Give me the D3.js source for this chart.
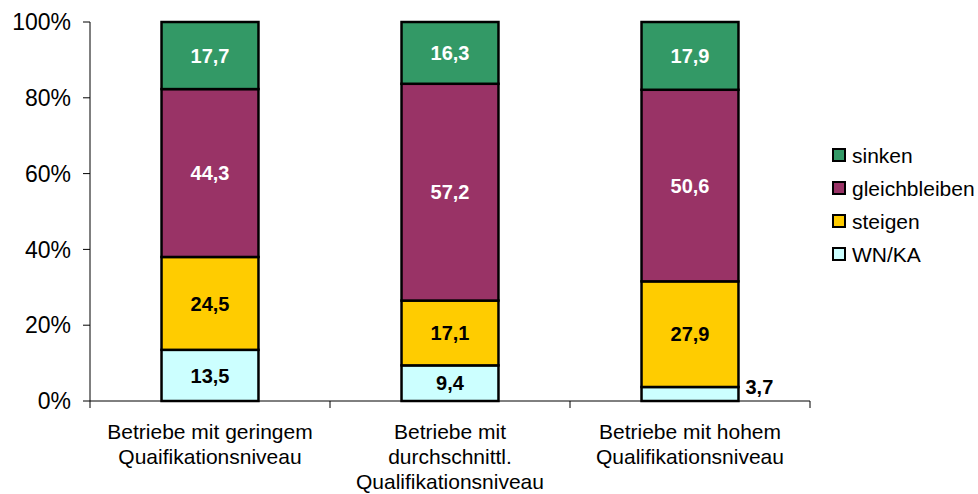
<!doctype html>
<html>
<head>
<meta charset="utf-8">
<script src="https://d3js.org/d3.v7.min.js"></script>
<style>
  body { margin: 0; background: #fff; }
  text { font-family: "Liberation Sans", Arial, sans-serif; }
</style>
</head>
<body>
<svg id="chart" width="978" height="494"></svg>
<script>
// data
const categories = [
  ["Betriebe mit geringem", "Quaifikationsniveau"],
  ["Betriebe mit", "durchschnittl.", "Qualifikationsniveau"],
  ["Betriebe mit hohem", "Qualifikationsniveau"]
];
const seriesNames = ["WN/KA", "steigen", "gleichbleiben", "sinken"];
const wnka = [13.5, 9.4, 3.7];
const steigen = [24.5, 17.1, 27.9];
const gleich = [44.3, 57.2, 50.6];
const sinken = [17.7, 16.3, 17.9];
const yTicks = [0, 20, 40, 60, 80, 100];

const colors = { "WN/KA": "#ccffff", "steigen": "#ffcc00", "gleichbleiben": "#993366", "sinken": "#339966" };
const labelColors = { "WN/KA": "#000", "steigen": "#000", "gleichbleiben": "#fff", "sinken": "#fff" };

const svg = d3.select("#chart");
const margin = { top: 22, left: 90, right: 168, bottom: 93 };
const width = 978 - margin.left - margin.right;   // 720
const height = 494 - margin.top - margin.bottom;  // 379

const rows = categories.map((c, i) => {
  const raw = { "WN/KA": wnka[i], "steigen": steigen[i], "gleichbleiben": gleich[i], "sinken": sinken[i] };
  const total = d3.sum(seriesNames, k => raw[k]);
  const r = { idx: i, raw: raw };
  seriesNames.forEach(k => r[k] = raw[k] / total * 100);
  return r;
});

const stack = d3.stack().keys(seriesNames)(rows);

const x = d3.scaleBand().domain(d3.range(categories.length)).range([0, width]).paddingInner(0).paddingOuter(0);
const y = d3.scaleLinear().domain([0, 100]).range([height, 0]);
const barW = x.bandwidth() * 0.404;

const g = svg.append("g").attr("transform", `translate(${margin.left},${margin.top})`);

// y axis
g.append("line").attr("x1", 0).attr("x2", 0).attr("y1", 0).attr("y2", height).attr("stroke", "#000");
yTicks.forEach(t => {
  g.append("line").attr("x1", -7).attr("x2", 0).attr("y1", y(t)).attr("y2", y(t)).attr("stroke", "#000");
  g.append("text").attr("x", -19).attr("y", y(t)).attr("dy", "0.36em")
    .attr("text-anchor", "end").attr("font-size", 23).text(t + "%");
});

// x axis
g.append("line").attr("x1", 0).attr("x2", width).attr("y1", height).attr("y2", height).attr("stroke", "#000");
d3.range(categories.length + 1).forEach(i => {
  const xx = i < categories.length ? x(i) : width;
  g.append("line").attr("x1", xx).attr("x2", xx).attr("y1", height).attr("y2", height + 7).attr("stroke", "#000");
});

// bars
stack.forEach(layer => {
  const key = layer.key;
  layer.forEach((d, i) => {
    const cx = x(i) + x.bandwidth() / 2;
    g.append("rect")
      .attr("x", cx - barW / 2).attr("width", barW)
      .attr("y", y(d[1])).attr("height", y(d[0]) - y(d[1]))
      .attr("fill", colors[key]).attr("stroke", "#000").attr("stroke-width", 2.5);
    const val = rows[i].raw[key];
    const h = y(d[0]) - y(d[1]);
    const lbl = g.append("text").attr("font-size", 20).attr("font-weight", "bold")
      .text(d3.format(".1f")(val).replace(".", ","));
    if (h > 20) {
      lbl.attr("x", cx).attr("y", (y(d[0]) + y(d[1])) / 2).attr("dy", "0.36em")
        .attr("text-anchor", "middle").attr("fill", labelColors[key]);
    } else {
      lbl.attr("x", cx + barW / 2 + 7).attr("y", (y(d[0]) + y(d[1])) / 2 - 7).attr("dy", "0.36em")
        .attr("text-anchor", "start").attr("fill", "#000");
    }
  });
});

// category labels
categories.forEach((lines, i) => {
  const cx = x(i) + x.bandwidth() / 2;
  const t = g.append("text").attr("text-anchor", "middle").attr("font-size", 21);
  lines.forEach((ln, j) => {
    t.append("tspan").attr("x", cx).attr("y", height + 38 + j * 25).text(ln);
  });
});

// legend
const legendOrder = ["sinken", "gleichbleiben", "steigen", "WN/KA"];
const lg = svg.append("g").attr("transform", "translate(833,155)");
legendOrder.forEach((k, i) => {
  const row = lg.append("g").attr("transform", `translate(0,${i * 33})`);
  row.append("rect").attr("x", 0).attr("y", -6).attr("width", 12).attr("height", 12)
    .attr("fill", colors[k]).attr("stroke", "#000").attr("stroke-width", 2);
  row.append("text").attr("x", 19).attr("y", 0).attr("dy", "0.36em").attr("font-size", 21).text(k);
});
</script>
</body>
</html>
